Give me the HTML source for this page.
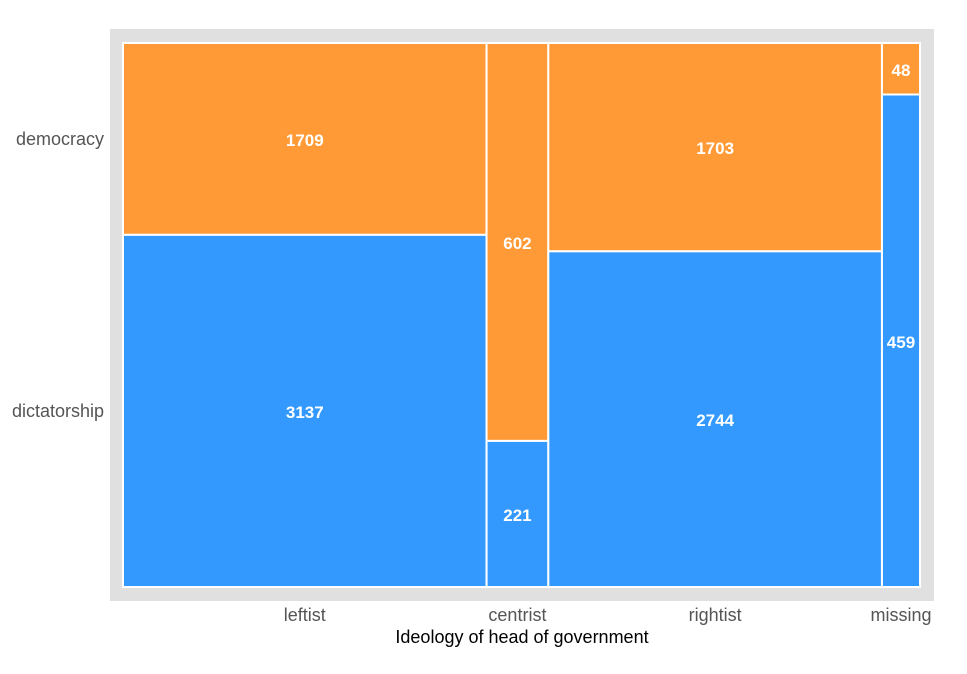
<!DOCTYPE html>
<html><head><meta charset="utf-8">
<style>
html,body{margin:0;padding:0;background:#fff;}
body{width:967px;height:669px;overflow:hidden;font-family:"Liberation Sans",Arial,sans-serif;}
</style></head>
<body>
<svg id="chart" width="967" height="669" xmlns="http://www.w3.org/2000/svg">
  <rect x="110" y="29" width="824" height="572" fill="#e0e0e0"/>
  <g id="cells"></g>
  <g id="labels"></g>
  <text x="522" y="643" font-size="18" text-anchor="middle" fill="#000">Ideology of head of government</text>
</svg>
<script>
const categories = ["leftist", "centrist", "rightist", "missing"];
const rowLabels = ["democracy", "dictatorship"];
const democracy = [1709, 602, 1703, 48];
const dictatorship = [3137, 221, 2744, 459];

const X0 = 123, X1 = 920, Y0 = 43, Y1 = 587;
const colors = ["#ff9a36", "#3399ff"];
const svgNS = "http://www.w3.org/2000/svg";
const cells = document.getElementById("cells");
const labels = document.getElementById("labels");

const totals = categories.map((c, i) => democracy[i] + dictatorship[i]);
const grand = totals.reduce((a, b) => a + b, 0);
function xScale(v) { return X0 + v / grand * (X1 - X0); }
function yScale(frac) { return Y0 + frac * (Y1 - Y0); }

function mk(tag, attrs) {
  const el = document.createElementNS(svgNS, tag);
  for (const k in attrs) el.setAttribute(k, attrs[k]);
  return el;
}

let cum = 0;
categories.forEach((cat, i) => {
  const xa = xScale(cum), xb = xScale(cum + totals[i]);
  cum += totals[i];
  const series = [democracy[i], dictatorship[i]];
  let fcum = 0;
  series.forEach((v, j) => {
    const ya = yScale(fcum / totals[i]), yb = yScale((fcum + v) / totals[i]);
    fcum += v;
    const r = mk("rect", {x: xa, y: ya, width: xb - xa, height: yb - ya, fill: colors[j], stroke: "#fff", "stroke-width": 2});
    
    
    cells.appendChild(r);
    const t = mk("text", {x: (xa + xb) / 2, y: (ya + yb) / 2 + 7, "font-size": 17, "font-weight": "bold", fill: "#fff", "text-anchor": "middle"});
    t.textContent = v;
    
    
    labels.appendChild(t);
  });
  const xl = mk("text", {x: (xa + xb) / 2, y: 621, "font-size": 18, fill: "#555", "text-anchor": "middle"});
  xl.textContent = cat;
  
  
  labels.appendChild(xl);
});

const f0 = democracy[0] / totals[0];
const yMid = [yScale(f0 / 2), yScale((f0 + 1) / 2)];
rowLabels.forEach((lab, j) => {
  const t = mk("text", {x: 104, y: yMid[j] + 6, "font-size": 18, fill: "#555", "text-anchor": "end"});
  t.textContent = lab;
  
  
  labels.appendChild(t);
});
</script>
</body></html>
